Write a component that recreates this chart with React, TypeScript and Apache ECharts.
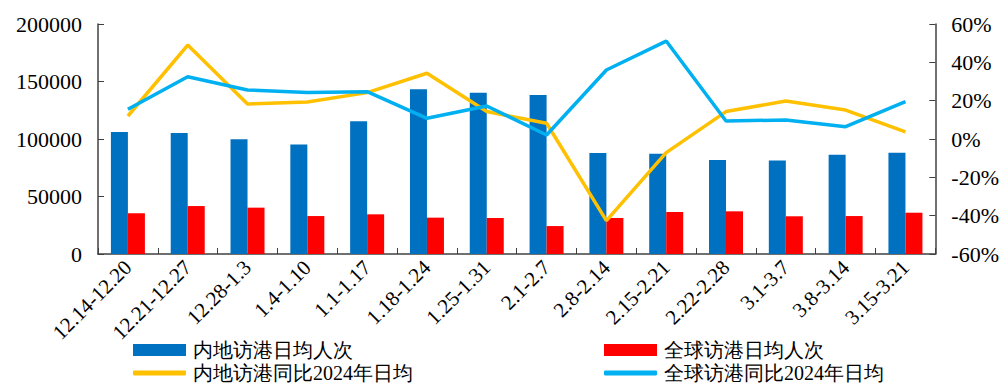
import React, { useEffect, useRef } from "react";
import * as echarts from "echarts";

const weeks = [
  "12.14-12.20", "12.21-12.27", "12.28-1.3", "1.4-1.10", "1.1-1.17", "1.18-1.24", "1.25-1.31",
  "2.1-2.7", "2.8-2.14", "2.15-2.21", "2.22-2.28", "3.1-3.7", "3.8-3.14", "3.15-3.21",
];
const mainlandDaily = [106000, 105200, 99700, 95300, 115400, 143200, 140300, 138300, 87800, 87200, 81700, 81400, 86400, 88100];
const globalDaily = [35400, 41700, 40300, 33000, 34500, 31600, 31300, 24300, 31300, 36500, 37100, 32800, 33000, 35900];
const mainlandYoY = [12.0, 49.0, 18.3, 19.3, 24.2, 34.3, 14.3, 8.2, -42.6, -7.1, 14.3, 19.8, 15.1, 3.7];
const globalYoY = [15.5, 32.5, 25.6, 24.2, 24.7, 10.8, 17.2, 2.1, 36.0, 51.1, 9.4, 9.9, 6.4, 19.5];

const names = ["内地访港日均人次", "全球访港日均人次", "内地访港同比2024年日均", "全球访港同比2024年日均"];
const serif = "Liberation Serif, serif";

export default function App() {
  const ref = useRef<HTMLDivElement>(null);
  useEffect(() => {
    if (!ref.current) return;
    const chart = echarts.init(ref.current, null, { renderer: "svg" });
    const axisLine = { show: true, lineStyle: { color: "#404040", width: 1.5 } };
    const tick = { show: true, inside: true, length: 6, lineStyle: { color: "#404040" } };
    const legendBase = {
      itemWidth: 53,
      itemGap: 0,
      padding: 0,
      textStyle: { fontFamily: serif, fontSize: 20, lineHeight: 20, color: "#000", padding: [0, 0, 0, 2] },
      selectedMode: false as const,
    };
    chart.setOption({
      animation: false,
      grid: { left: 98, right: 65, top: 24, bottom: 131 },
      legend: [
        { ...legendBase, data: [names[0]], left: 133, top: 340, itemHeight: 12, icon: "rect" },
        { ...legendBase, data: [names[1]], left: 604, top: 340, itemHeight: 12, icon: "rect" },
        { ...legendBase, data: [names[2]], left: 133, top: 363, itemHeight: 5, icon: "roundRect" },
        { ...legendBase, data: [names[3]], left: 604, top: 363, itemHeight: 5, icon: "roundRect" },
      ],
      xAxis: {
        type: "category",
        data: weeks,
        boundaryGap: true,
        axisLine,
        axisTick: tick,
        axisLabel: { rotate: 45, fontFamily: serif, fontSize: 21, color: "#000", margin: 10, interval: 0 },
      },
      yAxis: [
        {
          type: "value",
          min: 0,
          max: 200000,
          interval: 50000,
          axisLine,
          axisTick: tick,
          splitLine: { show: false },
          axisLabel: {
            fontFamily: serif,
            fontSize: 22,
            color: "#000",
            margin: 16,
            formatter: (v: number) => String(v),
          },
        },
        {
          type: "value",
          min: -60,
          max: 60,
          interval: 20,
          position: "right",
          axisLine,
          axisTick: tick,
          splitLine: { show: false },
          axisLabel: { fontFamily: serif, fontSize: 22, color: "#000", margin: 16, formatter: "{value}%" },
        },
      ],
      series: [
        {
          name: names[0],
          type: "bar",
          data: mainlandDaily,
          barWidth: 17,
          barGap: "0%",
          itemStyle: { color: "#0070C0" },
        },
        {
          name: names[1],
          type: "bar",
          data: globalDaily,
          barWidth: 17,
          barGap: "0%",
          itemStyle: { color: "#FF0000" },
        },
        {
          name: names[2],
          type: "line",
          yAxisIndex: 1,
          data: mainlandYoY,
          symbol: "none",
          lineStyle: { color: "#FFC000", width: 3.5 },
          itemStyle: { color: "#FFC000" },
        },
        {
          name: names[3],
          type: "line",
          yAxisIndex: 1,
          data: globalYoY,
          symbol: "none",
          lineStyle: { color: "#00B0F0", width: 3.5 },
          itemStyle: { color: "#00B0F0" },
        },
      ],
    });
    return () => chart.dispose();
  }, []);
  return <div ref={ref} style={{ position: "fixed", left: 0, top: 0, width: 1002, height: 385, background: "#fff" }} />;
}
